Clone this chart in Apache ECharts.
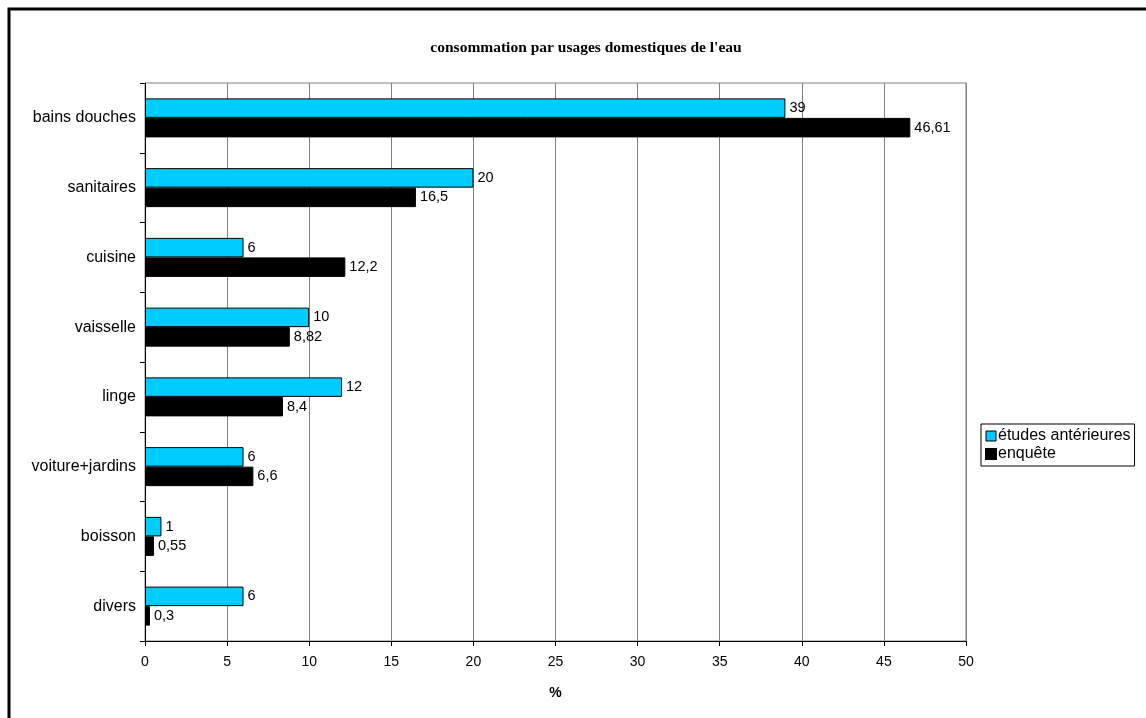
<!DOCTYPE html>
<html>
<head>
<meta charset="utf-8">
<script src="https://cdn.jsdelivr.net/npm/echarts@6/dist/echarts.min.js"></script>
<style>
  html, body { margin: 0; padding: 0; background: #fff; }
  #chart { width: 1146px; height: 718px; }
</style>
</head>
<body>
<div id="chart"></div>
<script>
// Domestic water use, by purpose (%)
const categories = ['bains douches', 'sanitaires', 'cuisine', 'vaisselle', 'linge', 'voiture+jardins', 'boisson', 'divers'];
const etudesAnterieures = [39, 20, 6, 10, 12, 6, 1, 6];
const enquete = [46.61, 16.5, 12.2, 8.82, 8.4, 6.6, 0.55, 0.3];
const xTicks = [0, 5, 10, 15, 20, 25, 30, 35, 40, 45, 50];

const FONT = '"Liberation Sans", Arial, sans-serif';
const frenchNum = v => String(v).replace('.', ',');

const chart = echarts.init(document.getElementById('chart'));

const valueLabel = {
  show: true, position: 'right', distance: 4,
  fontFamily: FONT, fontSize: 14.5, color: '#000',
  formatter: p => frenchNum(p.value)
};

chart.setOption({
  animation: false,
  backgroundColor: '#fff',
  title: {
    text: "consommation par usages domestiques de l'eau",
    left: 581,
    textAlign: 'center',
    top: 35,
    textStyle: { fontFamily: '"Liberation Serif", "Times New Roman", serif', fontWeight: 'bold', fontSize: 15.5, color: '#000' }
  },
  legend: {
    orient: 'vertical',
    left: 981,
    top: 424,
    padding: [4, 4, 4, 4],
    itemGap: 2,
    itemWidth: 10,
    itemHeight: 10,
    borderColor: '#000',
    borderWidth: 1,
    textStyle: { fontFamily: FONT, fontSize: 16, color: '#000', padding: [0, 0, 0, -3] },
    data: [
      { name: 'études antérieures', icon: 'rect', itemStyle: { borderColor: '#000', borderWidth: 1 } },
      { name: 'enquête', icon: 'rect' }
    ]
  },
  grid: {
    left: 145, right: 180, top: 83, bottom: 77,
    show: true, borderColor: '#808080', borderWidth: 1,
    containLabel: false
  },
  xAxis: {
    type: 'value',
    min: xTicks[0],
    max: xTicks[xTicks.length - 1],
    interval: 5,
    name: '%',
    nameLocation: 'middle',
    nameGap: 45,
    nameTextStyle: { fontFamily: FONT, fontWeight: 'bold', fontSize: 14, color: '#000' },
    axisLine: { show: true, lineStyle: { color: '#000', width: 1 } },
    axisTick: { show: true, length: 5, lineStyle: { color: '#000' } },
    axisLabel: { fontFamily: FONT, fontSize: 14, color: '#000', margin: 14 },
    splitLine: { show: true, lineStyle: { color: '#808080', width: 1 } }
  },
  yAxis: {
    type: 'category',
    data: categories,
    inverse: true,
    axisLine: { show: true, lineStyle: { color: '#000', width: 1 } },
    axisTick: { show: true, length: 5, lineStyle: { color: '#000' } },
    axisLabel: { fontFamily: FONT, fontSize: 16, color: '#000', margin: 9 },
    splitLine: { show: false }
  },
  series: [
    {
      name: 'études antérieures',
      type: 'bar',
      data: etudesAnterieures,
      barWidth: 19.5,
      barGap: '0%',
      itemStyle: { color: '#00CCFF', borderColor: '#000', borderWidth: 1 },
      label: valueLabel
    },
    {
      name: 'enquête',
      type: 'bar',
      data: enquete,
      barWidth: 19.5,
      barGap: '0%',
      itemStyle: { color: '#000', borderColor: '#000', borderWidth: 1 },
      label: valueLabel
    }
  ],
  graphic: [
    {
      type: 'rect',
      shape: { x: 9, y: 9, width: 1150, height: 720 },
      style: { fill: null, stroke: '#000', lineWidth: 3 },
      silent: true
    }
  ]
});
</script>
</body>
</html>
